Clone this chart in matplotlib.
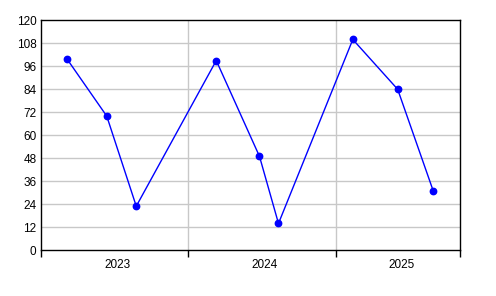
import matplotlib
matplotlib.use("Agg")
import matplotlib.pyplot as plt
import matplotlib.transforms as mtransforms
import datetime as dt

dates = ["2023-03-07", "2023-06-14", "2023-08-26",
         "2024-03-11", "2024-06-26", "2024-08-12",
         "2025-02-12", "2025-06-03", "2025-08-30"]
values = [100, 70, 23, 99, 49, 14, 110, 84, 31]
year_labels = ["2023", "2024", "2025"]
y_ticks = list(range(0, 121, 12))

x = [dt.datetime.strptime(d, "%Y-%m-%d") for d in dates]

plt.rcParams['font.family'] = ['Liberation Sans', 'DejaVu Sans']
fig = plt.figure(figsize=(4.96, 2.96), dpi=100)
W, H = 496, 296
ax = fig.add_axes([40.5 / W, (H - 250.3) / H, (460.3 - 40.5) / W, (250.3 - 20.3) / H])

ax.plot(x, values, color="#0000ff", linewidth=1.0, marker="o", markersize=4.6,
        markerfacecolor="#0000ff", markeredgecolor="#0000ff", zorder=3)

xmin = dt.datetime(2023, 1, 1)
xmax = dt.datetime(2025, 11, 5)
ax.set_xlim(xmin, xmax)
ax.set_ylim(0, 120)

ax.set_yticks(y_ticks)
ax.set_yticklabels([str(v) for v in y_ticks])
ax.tick_params(axis="y", length=0, pad=3, labelsize=8.5, colors="black")

boundaries = [dt.datetime(int(y), 1, 1) for y in year_labels[1:]]
major = [xmin] + boundaries + [xmax]
ax.set_xticks(major)
ax.set_xticklabels([""] * len(major))
ax.tick_params(axis="x", which="major", length=5, width=1, direction="out", colors="black")

centers = []
for y in year_labels:
    s = dt.datetime(int(y), 1, 1)
    e = min(dt.datetime(int(y) + 1, 1, 1), xmax)
    centers.append(s + (e - s) / 2)
ax.set_xticks(centers, minor=True)
ax.set_xticklabels(year_labels, minor=True)
ax.tick_params(axis="x", which="minor", length=0, pad=6, labelsize=8.5)
offset = mtransforms.ScaledTranslation(3 / 100, 0, fig.dpi_scale_trans)
for lab in ax.get_xticklabels(minor=True):
    lab.set_transform(lab.get_transform() + offset)

ax.grid(False)
for v in y_ticks[1:-1]:
    ax.axhline(v, color="#c8c8c8", linewidth=1.0, zorder=1)
for b in boundaries:
    ax.axvline(b, color="#c8c8c8", linewidth=1.0, zorder=1)

for sp in ax.spines.values():
    sp.set_color("black")
    sp.set_linewidth(1.0)

fig.savefig("out.png", dpi=100, facecolor="white")
